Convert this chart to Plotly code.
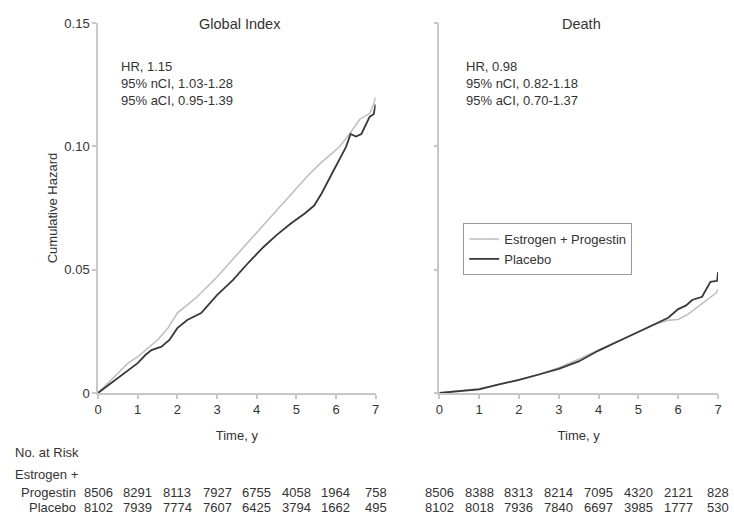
import plotly.graph_objects as go

# ---------------- data ----------------
years = [0, 1, 2, 3, 4, 5, 6, 7]
y_tickvals = [0, 0.05, 0.10, 0.15]
y_ticktext = ["0", "0.05", "0.10", "0.15"]

series_names = ["Estrogen + Progestin", "Placebo"]
panel_titles = ["Global Index", "Death"]
panel_stats = [
    ["HR, 1.15", "95% nCI, 1.03-1.28", "95% aCI, 0.95-1.39"],
    ["HR, 0.98", "95% nCI, 0.82-1.18", "95% aCI, 0.70-1.37"],
]

# Global Index
gi_ep_t = [0, 0.25, 0.5, 0.75, 1.0, 1.25, 1.5, 1.75, 2.0, 2.5, 3.0, 3.5, 3.9, 4.3, 4.62,
           5.0, 5.3, 5.6, 5.9, 6.1, 6.34, 6.6, 6.85, 6.95, 7.0]
gi_ep_v = [0, 0.004, 0.008, 0.012, 0.0147, 0.018, 0.0215, 0.026, 0.0324, 0.039, 0.047, 0.056,
           0.0632, 0.070, 0.076, 0.083, 0.0883, 0.093, 0.0972, 0.100, 0.105, 0.111, 0.1134, 0.117, 0.120]
gi_pl_t = [0, 0.25, 0.5, 0.75, 1.0, 1.2, 1.35, 1.6, 1.8, 2.0, 2.25, 2.6, 3.0, 3.4, 3.8, 4.18,
           4.5, 4.87, 5.22, 5.45, 5.64, 5.9, 6.1, 6.25, 6.37, 6.5, 6.64, 6.85, 6.95, 7.0]
gi_pl_v = [0, 0.003, 0.006, 0.009, 0.0121, 0.0155, 0.0174, 0.0188, 0.0215, 0.0263, 0.0296, 0.0324,
           0.0397, 0.0458, 0.053, 0.0593, 0.064, 0.0688, 0.0729, 0.076, 0.081, 0.089, 0.095, 0.0997,
           0.105, 0.104, 0.105, 0.112, 0.113, 0.117]

# Death
de_ep_t = [0, 0.5, 1.0, 1.5, 2.0, 2.5, 3.0, 3.5, 4.0, 4.5, 5.0, 5.5, 5.75, 6.0, 6.25, 6.5, 6.75, 6.95, 7.0]
de_ep_v = [0, 0.0008, 0.0018, 0.0035, 0.0053, 0.0075, 0.0103, 0.0137, 0.0176, 0.0212, 0.0247,
           0.0283, 0.0295, 0.0298, 0.032, 0.035, 0.038, 0.0405, 0.042]
de_pl_t = [0, 0.5, 1.0, 1.5, 2.0, 2.5, 3.0, 3.5, 4.0, 4.5, 5.0, 5.5, 5.75, 6.0, 6.2, 6.35, 6.6,
           6.81, 6.98, 7.0]
de_pl_v = [0, 0.0008, 0.0015, 0.0035, 0.0053, 0.0075, 0.0098, 0.0128, 0.0172, 0.021, 0.0247,
           0.0285, 0.0305, 0.034, 0.0355, 0.0377, 0.039, 0.0451, 0.0455, 0.049]

# Number at risk
risk_gi_ep = [8506, 8291, 8113, 7927, 6755, 4058, 1964, 758]
risk_gi_pl = [8102, 7939, 7774, 7607, 6425, 3794, 1662, 495]
risk_de_ep = [8506, 8388, 8313, 8214, 7095, 4320, 2121, 828]
risk_de_pl = [8102, 8018, 7936, 7840, 6697, 3985, 1777, 530]

# ---------------- styling ----------------
FONT = "Liberation Sans, Arial, Helvetica, sans-serif"
TXT = "#333333"
LIGHT = "#bdbdbd"
DARK = "#383838"
AXC = "#c8c8c8"

fig = go.Figure()

fig.add_trace(go.Scatter(x=gi_ep_t, y=gi_ep_v, mode="lines", name=series_names[0],
                         line=dict(color=LIGHT, width=1.5), xaxis="x", yaxis="y", showlegend=True))
fig.add_trace(go.Scatter(x=gi_pl_t, y=gi_pl_v, mode="lines", name=series_names[1],
                         line=dict(color=DARK, width=1.8), xaxis="x", yaxis="y", showlegend=True))
fig.add_trace(go.Scatter(x=de_ep_t, y=de_ep_v, mode="lines", name=series_names[0],
                         line=dict(color=LIGHT, width=1.5), xaxis="x2", yaxis="y2", showlegend=False))
fig.add_trace(go.Scatter(x=de_pl_t, y=de_pl_v, mode="lines", name=series_names[1],
                         line=dict(color=DARK, width=1.8), xaxis="x2", yaxis="y2", showlegend=False))

W, H = 734, 515
ML, MR, MT, MB = 98, 13, 23, 122
PW = W - ML - MR  # 623
PH = H - MT - MB  # 370

def px_x(p):
    return (p - ML) / PW

def px_y(p):
    return (H - MB - p) / PH

xaxis_common = dict(range=[0, 7], tickvals=years, ticks="outside", ticklen=4, tickcolor=AXC,
                     tickwidth=1.5, showline=True, linecolor=AXC, linewidth=1.5, showgrid=False,
                     zeroline=False, tickfont=dict(family=FONT, size=13, color=TXT),
                     title=dict(text="Time, y", font=dict(family=FONT, size=13, color=TXT), standoff=15),
                     fixedrange=True)
yaxis_common = dict(range=[0, 0.15], tickvals=y_tickvals, ticktext=y_ticktext, ticks="outside",
                     ticklen=4, tickcolor=AXC, tickwidth=1.5, showline=True, linecolor=AXC,
                     linewidth=1.5, showgrid=False, zeroline=False,
                     tickfont=dict(family=FONT, size=13, color=TXT), fixedrange=True)

fig.update_layout(
    width=W, height=H,
    margin=dict(l=ML, r=MR, t=MT, b=MB),
    paper_bgcolor="white", plot_bgcolor="white",
    font=dict(family=FONT, size=13, color=TXT),
    xaxis=dict(domain=[0, px_x(377)], anchor="y", **xaxis_common),
    xaxis2=dict(domain=[px_x(441), 1], anchor="y2", **xaxis_common),
    yaxis=dict(domain=[0, 1], anchor="x",
               title=dict(text="Cumulative Hazard", font=dict(family=FONT, size=13, color=TXT),
                          standoff=4),
               **yaxis_common),
    yaxis2=dict(domain=[0, 1], anchor="x2", showticklabels=False, **yaxis_common),
    legend=dict(x=px_x(465), y=px_y(223), xanchor="left", yanchor="top",
                bordercolor="#999999", borderwidth=1, bgcolor="white",
                font=dict(family=FONT, size=13, color=TXT), tracegroupgap=0,
                itemwidth=30),
    showlegend=True,
)

annotations = []
# panel titles
for i, t in enumerate(panel_titles):
    xr = "x domain" if i == 0 else "x2 domain"
    annotations.append(dict(text=t, xref=xr, yref="paper", x=0.51, y=px_y(24),
                            xanchor="center", yanchor="middle", showarrow=False,
                            font=dict(family=FONT, size=14.5, color=TXT)))
# stats text
for i, lines in enumerate(panel_stats):
    xr = "x domain" if i == 0 else "x2 domain"
    xpos = (119 - 98) / 279 if i == 0 else (466 - 441) / 280
    for j, ln in enumerate(lines):
        annotations.append(dict(text=ln, xref=xr, yref="paper", x=xpos,
                                y=px_y(66 + j * 17.5), xanchor="left", yanchor="middle",
                                showarrow=False, font=dict(family=FONT, size=13, color=TXT)))
# number at risk labels
annotations.append(dict(text="No. at Risk", xref="paper", yref="paper", x=px_x(13), y=px_y(452),
                        xanchor="left", yanchor="middle", showarrow=False))
annotations.append(dict(text="Estrogen +", xref="paper", yref="paper", x=px_x(13), y=px_y(474),
                        xanchor="left", yanchor="middle", showarrow=False))
annotations.append(dict(text="Progestin", xref="paper", yref="paper", x=px_x(78), y=px_y(492),
                        xanchor="right", yanchor="middle", showarrow=False))
annotations.append(dict(text="Placebo", xref="paper", yref="paper", x=px_x(78), y=px_y(507),
                        xanchor="right", yanchor="middle", showarrow=False))
for xr, ep, pl in [("x", risk_gi_ep, risk_gi_pl), ("x2", risk_de_ep, risk_de_pl)]:
    for k, yr in enumerate(years):
        annotations.append(dict(text=str(ep[k]), xref=xr, yref="paper", x=yr, y=px_y(492),
                                xanchor="center", yanchor="middle", showarrow=False))
        annotations.append(dict(text=str(pl[k]), xref=xr, yref="paper", x=yr, y=px_y(507),
                                xanchor="center", yanchor="middle", showarrow=False))

fig.update_layout(annotations=annotations)

fig.write_html("out.html",
               config={"displayModeBar": False},
               post_script="document.body.style.margin='0';document.body.style.overflow='hidden';")
